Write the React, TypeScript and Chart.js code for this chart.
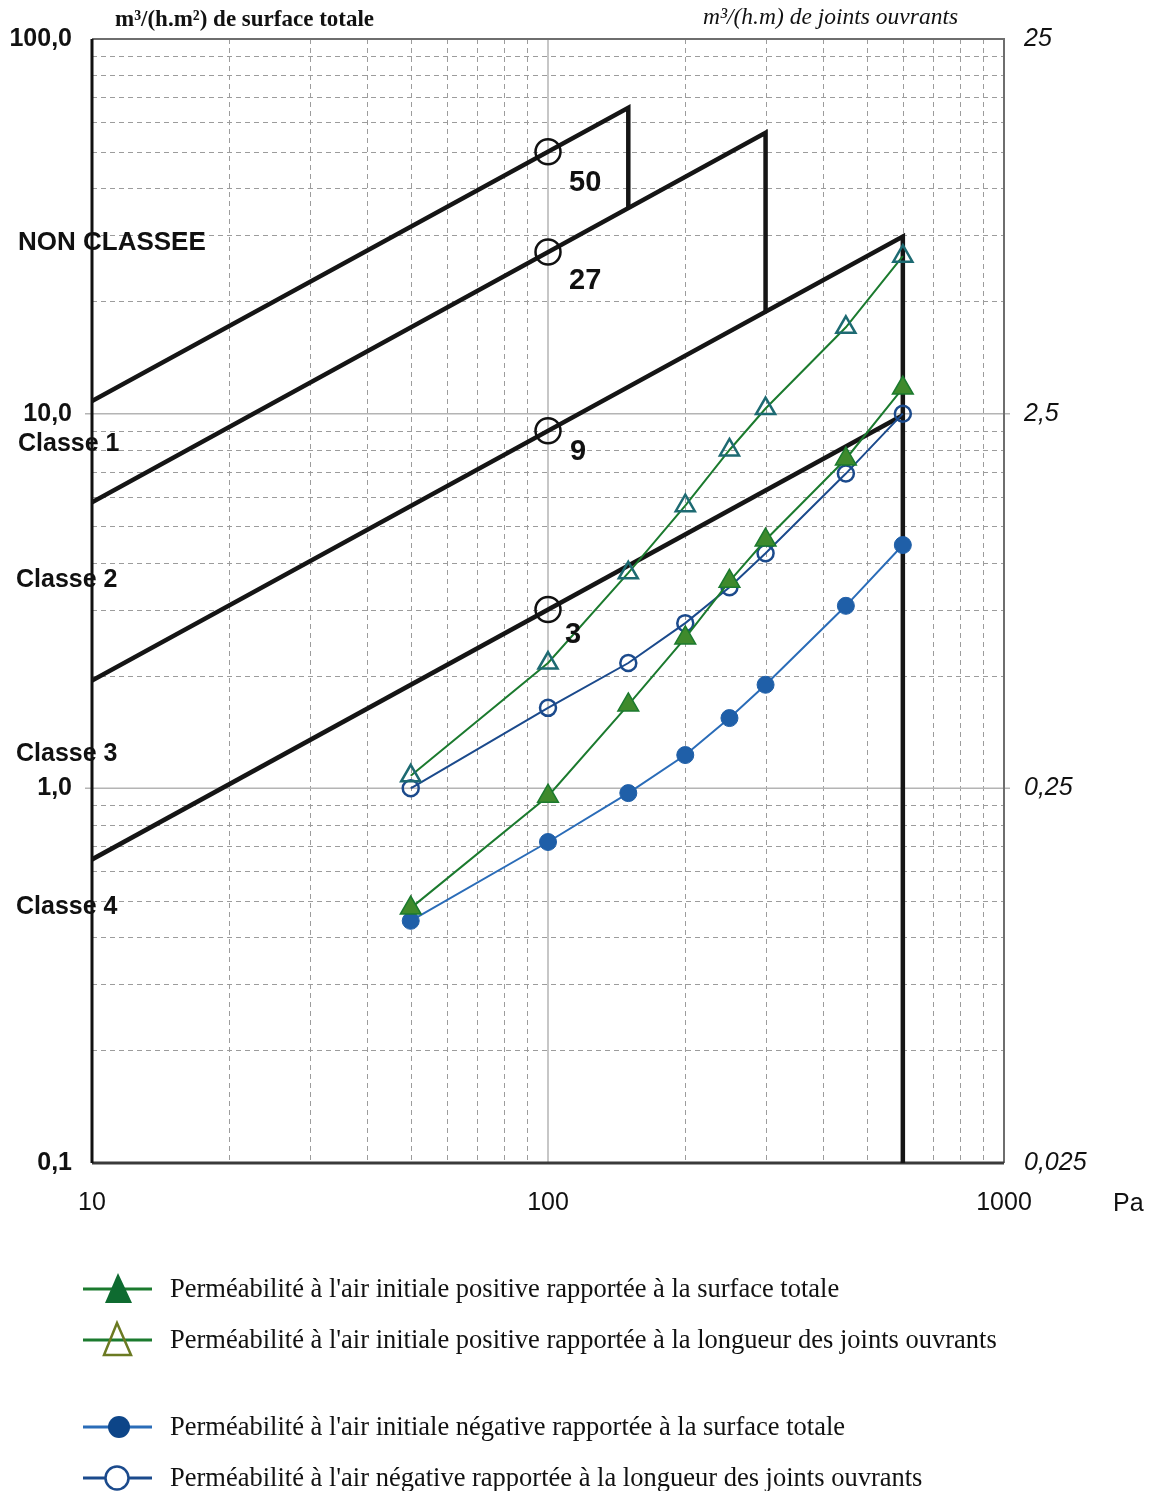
import React, { useEffect, useRef } from 'react';
import { Chart, registerables } from 'chart.js';

Chart.register(...registerables);

// ---------- data ----------
const pressures = [50, 100, 150, 200, 250, 300, 450, 600];
// m3/(h.m2) surface totale (left axis)
const posSurface = [0.479, 0.953, 1.67, 2.52, 3.57, 4.6, 7.57, 11.7];
const negSurface = [0.443, 0.719, 0.971, 1.227, 1.54, 1.89, 3.07, 4.46];
// m3/(h.m) joints ouvrants (right axis)
const posJoints = [0.27, 0.54, 0.94, 1.42, 2.0, 2.58, 4.25, 6.58];
const negJoints = [0.25, 0.41, 0.54, 0.69, 0.86, 1.06, 1.73, 2.5];

// class limits (EN 12207) : reference points at 100 Pa and limit polylines
const classRefPressure = 100;
const classRefValues = [50, 27, 9, 3];
const classRefLabels = ['50', '27', '9', '3'];
const class1Line = [[10, 10.8], [150, 65.5], [150, 35.4]];
const class2Line = [[10, 5.8], [300, 56.2], [300, 18.7]];
const class3Line = [[10, 1.94], [600, 29.7], [600, 0.1]];
const class4Line = [[10, 0.646], [600, 9.9]];

const leftTicks = [0.1, 1, 10, 100];
const rightTicks = [0.025, 0.25, 2.5, 25];
const xTicks = [10, 100, 1000];

const zoneLabels = ['NON CLASSEE', 'Classe 1', 'Classe 2', 'Classe 3', 'Classe 4'];

const legendLabels = [
  "Perméabilité à l'air initiale positive rapportée à la surface totale",
  "Perméabilité à l'air initiale positive rapportée à la longueur des joints ouvrants",
  "Perméabilité à l'air initiale négative rapportée à la surface totale",
  "Perméabilité à l'air négative rapportée à la longueur des joints ouvrants",
];

const W = 1157;
const H = 1491;
const SANS = '"Liberation Sans", Arial, sans-serif';
const SERIF = '"Liberation Serif", "Times New Roman", serif';

const GREEN = '#1b7a2e';
const GREEN_FILL = '#3f8a2c';
const TEAL = '#1d6a72';
const BLUE = '#2a6cb8';
const BLUE_FILL = '#1f5fa8';
const NAVY = '#1b4a8c';

const toXY = (xs: number[], ys: number[]) => xs.map((x, i) => ({ x, y: ys[i] }));
const pairs = (arr: number[][]) => arr.map(([x, y]) => ({ x, y }));

const decorPlugin = {
  id: 'decor',
  beforeDatasetsDraw(chart: any) {
    const { ctx, chartArea: a, scales } = chart;
    const xs = scales.x;
    const ys = scales.y;
    ctx.save();
    // minor dashed grid
    ctx.strokeStyle = '#9c9c9c';
    ctx.lineWidth = 1;
    ctx.setLineDash([5, 4]);
    for (const d of [10, 100]) {
      for (let m = 2; m <= 9; m++) {
        const px = Math.round(xs.getPixelForValue(d * m)) + 0.5;
        ctx.beginPath();
        ctx.moveTo(px, a.top);
        ctx.lineTo(px, a.bottom);
        ctx.stroke();
      }
    }
    for (const d of [0.1, 1, 10]) {
      for (let m = 2; m <= 9; m++) {
        const py = Math.round(ys.getPixelForValue(d * m)) + 0.5;
        ctx.beginPath();
        ctx.moveTo(a.left, py);
        ctx.lineTo(a.right, py);
        ctx.stroke();
      }
    }
    // major solid grid
    ctx.setLineDash([]);
    ctx.strokeStyle = '#b4b4b4';
    ctx.lineWidth = 1.5;
    const px100 = xs.getPixelForValue(100);
    ctx.beginPath();
    ctx.moveTo(px100, a.top);
    ctx.lineTo(px100, a.bottom);
    ctx.stroke();
    for (const v of [1, 10]) {
      const py = ys.getPixelForValue(v);
      ctx.beginPath();
      ctx.moveTo(a.left - 7, py);
      ctx.lineTo(a.right + 6, py);
      ctx.stroke();
    }
    // frame
    ctx.strokeStyle = '#6e6e6e';
    ctx.lineWidth = 2;
    ctx.beginPath();
    ctx.moveTo(a.left, a.top);
    ctx.lineTo(a.right, a.top);
    ctx.lineTo(a.right, a.bottom);
    ctx.stroke();
    ctx.strokeStyle = '#3a3a3a';
    ctx.lineWidth = 3;
    ctx.beginPath();
    ctx.moveTo(a.left, a.bottom);
    ctx.lineTo(a.right, a.bottom);
    ctx.stroke();
    ctx.strokeStyle = '#111';
    ctx.lineWidth = 3;
    ctx.beginPath();
    ctx.moveTo(a.left, a.top);
    ctx.lineTo(a.left, a.bottom);
    ctx.stroke();
    ctx.restore();
  },
  afterDatasetsDraw(chart: any) {
    const { ctx, scales } = chart;
    const xs = scales.x;
    const ys = scales.y;
    ctx.save();
    ctx.fillStyle = '#111';
    ctx.textBaseline = 'middle';
    ctx.textAlign = 'left';
    // axis titles
    ctx.font = `bold 23px ${SERIF}`;
    ctx.fillText('m³/(h.m²) de surface totale', 115, 20);
    ctx.font = `italic 23.5px ${SERIF}`;
    ctx.fillText('m³/(h.m) de joints ouvrants', 703, 18);
    ctx.font = `25px ${SANS}`;
    ctx.fillText('Pa', 1113, 1204);
    // zone labels
    const zonePos = [[18, 243], [18, 444], [16, 580], [16, 754], [16, 907]];
    zoneLabels.forEach((t, i) => {
      ctx.font = i === 0 ? `bold 26px ${SANS}` : `bold 25px ${SANS}`;
      ctx.fillText(t, zonePos[i][0], zonePos[i][1]);
    });
    // class reference values
    ctx.font = `bold 29px ${SANS}`;
    const offs = [[21, 31], [21, 29], [22, 21], [17, 25]];
    classRefValues.forEach((v, i) => {
      const px = xs.getPixelForValue(classRefPressure);
      const py = ys.getPixelForValue(v);
      ctx.fillText(classRefLabels[i], px + offs[i][0], py + offs[i][1]);
    });
    ctx.restore();
  },
};

function LegendSymbol({ kind }: { kind: number }) {
  const cy = 20;
  const lineColor = kind < 2 ? GREEN : kind === 2 ? BLUE : NAVY;
  return (
    <svg width={80} height={40} style={{ position: 'absolute', left: 78, top: -20 }}>
      <line x1={5} y1={cy} x2={74} y2={cy} stroke={lineColor} strokeWidth={3} />
      {kind === 0 && <polygon points="40,4 27,34 54,34" fill="#0e6b30" />}
      {kind === 1 && (
        <polygon points="39,3 26,35 53,35" fill="none" stroke="#6b7a22" strokeWidth={2.5} />
      )}
      {kind === 2 && <circle cx={41} cy={cy} r={11} fill="#0d4588" />}
      {kind === 3 && <circle cx={39} cy={cy} r={11.5} fill="#fff" stroke={NAVY} strokeWidth={2.5} />}
    </svg>
  );
}

export default function App() {
  const ref = useRef<HTMLCanvasElement | null>(null);

  useEffect(() => {
    if (!ref.current) return;
    const classStyle = {
      type: 'line' as const,
      borderColor: '#151515',
      borderWidth: 4.5,
      pointRadius: 0,
      fill: false,
      tension: 0,
      yAxisID: 'y',
      order: 5,
    };
    const chart = new Chart(ref.current, {
      type: 'line',
      data: {
        datasets: [
          {
            label: legendLabels[0],
            data: toXY(pressures, posSurface),
            yAxisID: 'y',
            borderColor: GREEN,
            borderWidth: 2,
            pointStyle: 'triangle',
            pointRadius: 12,
            pointBackgroundColor: GREEN_FILL,
            pointBorderColor: GREEN,
            pointBorderWidth: 1.5,
            order: 1,
          },
          {
            label: legendLabels[1],
            data: toXY(pressures, posJoints),
            yAxisID: 'y2',
            borderColor: GREEN,
            borderWidth: 2,
            pointStyle: 'triangle',
            pointRadius: 11,
            pointBackgroundColor: 'rgba(255,255,255,0)',
            pointBorderColor: TEAL,
            pointBorderWidth: 2.5,
            order: 1,
          },
          {
            label: legendLabels[2],
            data: toXY(pressures, negSurface),
            yAxisID: 'y',
            borderColor: BLUE,
            borderWidth: 2,
            pointStyle: 'circle',
            pointRadius: 8.5,
            pointBackgroundColor: BLUE_FILL,
            pointBorderColor: BLUE_FILL,
            pointBorderWidth: 1,
            order: 1,
          },
          {
            label: legendLabels[3],
            data: toXY(pressures, negJoints),
            yAxisID: 'y2',
            borderColor: NAVY,
            borderWidth: 2,
            pointStyle: 'circle',
            pointRadius: 8,
            pointBackgroundColor: 'rgba(255,255,255,0)',
            pointBorderColor: NAVY,
            pointBorderWidth: 2.5,
            order: 1,
          },
          {
            label: 'Class refs',
            type: 'line',
            data: classRefValues.map((v) => ({ x: classRefPressure, y: v })),
            yAxisID: 'y',
            showLine: false,
            pointStyle: 'circle',
            pointRadius: 12.5,
            pointBackgroundColor: 'rgba(255,255,255,0)',
            pointBorderColor: '#111',
            pointBorderWidth: 2.5,
            order: 2,
          },
          { label: 'Classe 1', data: pairs(class1Line), ...classStyle },
          { label: 'Classe 2', data: pairs(class2Line), ...classStyle },
          { label: 'Classe 3', data: pairs(class3Line), ...classStyle },
          { label: 'Classe 4', data: pairs(class4Line), ...classStyle },
        ] as any,
      },
      options: {
        animation: false,
        responsive: false,
        devicePixelRatio: 1,
        layout: { padding: { top: 39, left: 0, right: 0, bottom: 0 } },
        plugins: { legend: { display: false }, tooltip: { enabled: false } },
        scales: {
          x: {
            type: 'logarithmic',
            position: 'bottom',
            min: 10,
            max: 1000,
            grid: { display: false },
            border: { display: false },
            afterBuildTicks: (s: any) => {
              s.ticks = xTicks.map((v) => ({ value: v }));
            },
            afterFit: (s: any) => {
              s.height = H - 1163;
            },
            ticks: {
              autoSkip: false,
              maxRotation: 0,
              padding: 17,
              color: '#111',
              font: { family: SANS, size: 25 },
              callback: (v: any) => String(v),
            },
          },
          y: {
            type: 'logarithmic',
            position: 'left',
            min: 0.1,
            max: 100,
            grid: { display: false },
            border: { display: false },
            afterBuildTicks: (s: any) => {
              s.ticks = leftTicks.map((v) => ({ value: v }));
            },
            afterFit: (s: any) => {
              s.width = 92;
            },
            ticks: {
              autoSkip: false,
              padding: 12,
              color: '#111',
              font: { family: SANS, size: 25, weight: 'bold' },
              callback: (v: any) => Number(v).toFixed(1).replace('.', ','),
            },
          },
          y2: {
            type: 'logarithmic',
            position: 'right',
            min: 0.025,
            max: 25,
            grid: { display: false },
            border: { display: false },
            afterBuildTicks: (s: any) => {
              s.ticks = rightTicks.map((v) => ({ value: v }));
            },
            afterFit: (s: any) => {
              s.width = W - 1004;
            },
            ticks: {
              autoSkip: false,
              padding: 12,
              color: '#111',
              font: { family: SANS, size: 25, style: 'italic' },
              callback: (v: any) => String(v).replace('.', ','),
            },
          },
        },
      } as any,
      plugins: [decorPlugin],
    });
    return () => chart.destroy();
  }, []);

  const rowsY = [1289, 1340, 1427, 1478];
  return (
    <div style={{ position: 'absolute', left: 0, top: 0, width: W, height: H, background: '#fff' }}>
      <canvas ref={ref} width={W} height={H} style={{ position: 'absolute', left: 0, top: 0 }} />
      {legendLabels.map((t, i) => (
        <div key={i} style={{ position: 'absolute', left: 0, top: rowsY[i], width: W, height: 0 }}>
          <LegendSymbol kind={i} />
          <div
            style={{
              position: 'absolute',
              left: 170,
              top: -17,
              fontFamily: SERIF,
              fontSize: 26.5,
              lineHeight: '32px',
              whiteSpace: 'nowrap',
              color: '#111',
            }}
          >
            {t}
          </div>
        </div>
      ))}
    </div>
  );
}
